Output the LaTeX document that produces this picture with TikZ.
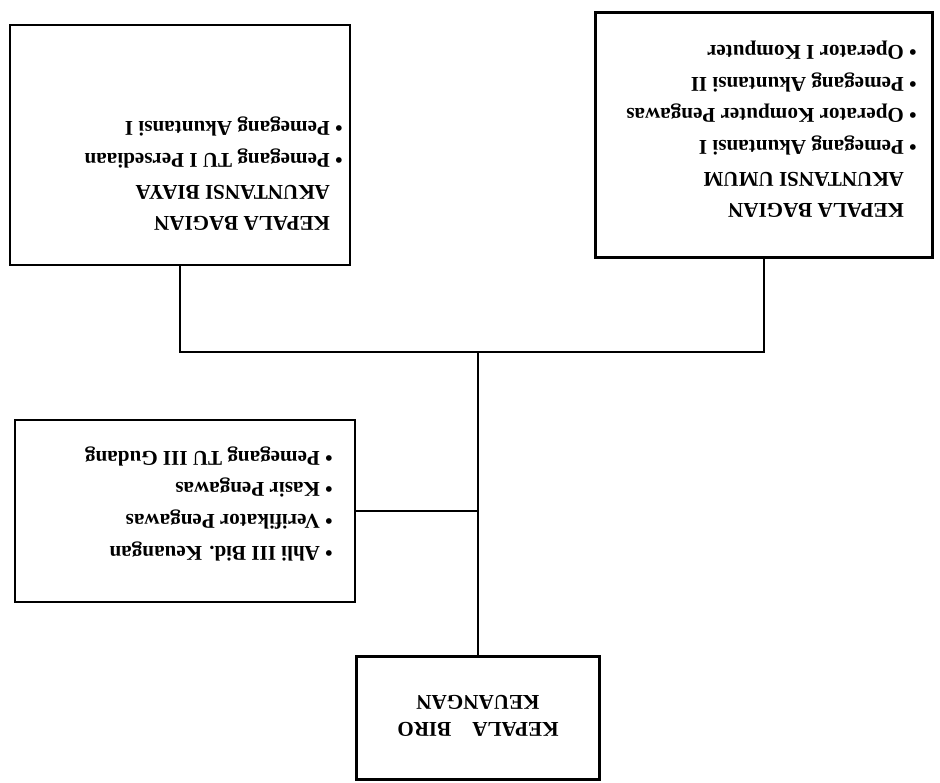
\documentclass[tikz,border=0pt]{standalone}
\usepackage{fontspec}
\setmainfont{Liberation Serif}
\usetikzlibrary{positioning}
\newcommand{\butir}{\textbullet\ }
\newcommand{\kosong}{\phantom{\textbullet\ }}

\begin{document}
\begin{tikzpicture}[x=0.02cm,y=0.02cm,rotate=180,transform shape,
  kotak/.style={draw,line width=1.6pt,inner sep=0pt},
  isi/.style={anchor=north west,inner sep=0pt,align=left,
    font=\bfseries\fontsize{12}{18}\selectfont},
  garis/.style={line width=1.6pt}]
\useasboundingbox (0,0) rectangle (940,783);
% kotak-kotak
\node[kotak,minimum width=4.86cm,minimum height=2.46cm] (biro) at (462,718) {};
\node[kotak,minimum width=6.8cm,minimum height=4.8cm] (biaya) at (760,145) {};
\node[kotak,minimum width=6.74cm,minimum height=4.9cm] (umum) at (176,135) {};
\node[kotak,minimum width=6.8cm,minimum height=3.64cm] (staf) at (755,511) {};
% isi
\node[align=center,inner sep=0pt,font=\bfseries\fontsize{12}{15}\selectfont]
  (tbiro) at (462,716) {KEPALA\quad BIRO\\ KEUANGAN};
\node[isi] (tbiaya) at (597,231) {\kosong KEPALA BAGIAN\\
  \kosong AKUNTANSI BIAYA\\ \butir Pemegang TU I Persediaan\\
  \butir Pemegang Akuntansi I};
\node[isi] (tumum) at (23,218) {\kosong KEPALA BAGIAN\\
  \kosong AKUNTANSI UMUM\\ \butir Pemegang Akuntansi I\\
  \butir Operator Komputer Pengawas\\ \butir Pemegang Akuntansi II\\
  \butir Operator I Komputer};
\node[isi] (tstaf) at (607,561) {\butir Ahli III Bid. Keuangan\\
  \butir Verifikator Pengawas\\ \butir Kasir Pengawas\\
  \butir Pemegang TU III Gudang};
% garis
\coordinate (simpul) at (462,352);
\draw[garis] (biro.south) -- (simpul);
\draw[garis] (umum.north) -- (umum.north |- simpul) -- (biaya.north |- simpul)
  -- (biaya.north);
\draw[garis] (staf.west) -- (staf.west -| simpul);
\end{tikzpicture}
\end{document}
